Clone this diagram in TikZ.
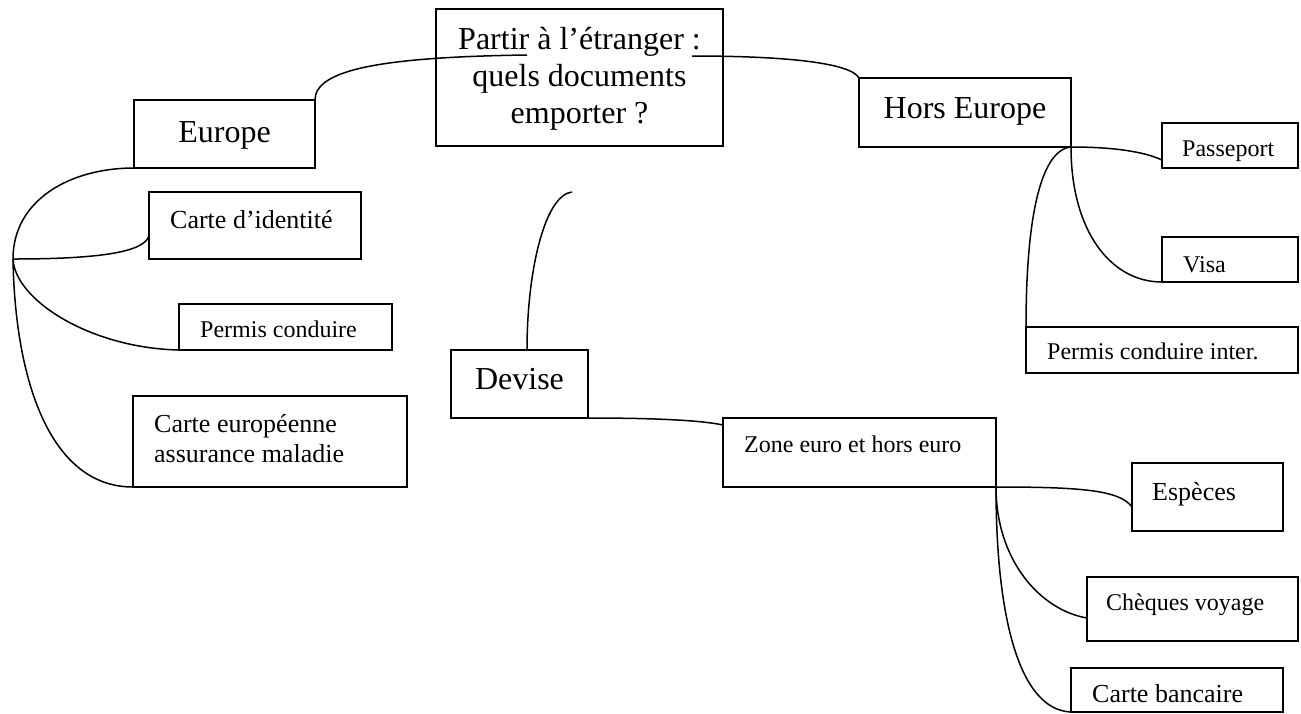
\documentclass[tikz,border=0pt]{standalone}
\usepackage{fontspec}
\setmainfont{Liberation Serif}
\begin{document}
\begin{tikzpicture}[x=1pt,y=-1pt,
  box/.style={draw=black,line width=1.7pt,inner sep=0pt,outer sep=0pt,rectangle},
  conn/.style={draw=black,line width=1.5pt},
  big/.style={inner sep=0pt,font=\fontsize{32}{37}\selectfont},
  small/.style={inner sep=0pt,anchor=base west,font=\fontsize{24}{29}\selectfont},
  smallb/.style={inner sep=0pt,anchor=base west,font=\fontsize{26}{30}\selectfont}]
\useasboundingbox (0,0) rectangle (1301,713);
% boxes
\node[box,minimum width=287pt,minimum height=137pt] (title) at (579.5,77.5) {};
\node[box,minimum width=181pt,minimum height=68pt] (eu) at (224.5,134) {};
\node[box,minimum width=212pt,minimum height=67pt] (cid) at (255,225.5) {};
\node[box,minimum width=213pt,minimum height=46pt] (pc) at (285.5,327) {};
\node[box,minimum width=274pt,minimum height=91pt] (ceam) at (270,441.5) {};
\node[box,minimum width=212pt,minimum height=69pt] (hors) at (965,112.5) {};
\node[box,minimum width=136pt,minimum height=45pt] (pass) at (1230,145.5) {};
\node[box,minimum width=136pt,minimum height=45pt] (visa) at (1230,259.5) {};
\node[box,minimum width=272pt,minimum height=46pt] (pci) at (1162,350) {};
\node[box,minimum width=137pt,minimum height=68pt] (dev) at (519.5,384) {};
\node[box,minimum width=273pt,minimum height=69pt] (zone) at (859.5,452.5) {};
\node[box,minimum width=151pt,minimum height=68pt] (esp) at (1207.5,497) {};
\node[box,minimum width=211pt,minimum height=64pt] (chq) at (1192.5,609) {};
\node[box,minimum width=212pt,minimum height=44pt] (cb) at (1177,690) {};
% texts
\node[big,align=center,anchor=north] (ttitle) at (579.5,27) {Partir à l’étranger~:\\quels documents\\emporter~?};
\node[big,anchor=base] (teu) at (224.5,142) {Europe};
\node[big,anchor=base] (thors) at (965,118) {Hors Europe};
\node[big,anchor=base] (tdev) at (519.5,389) {Devise};
\node[smallb] (tcid) at (170,228) {Carte d’identité};
\node[small] (tpc) at (200,337) {Permis conduire};
\node[smallb] (tceam1) at (154,432) {Carte européenne};
\node[smallb] (tceam2) at (154,462) {assurance maladie};
\node[small] (tpass) at (1182,156) {Passeport};
\node[small] (tvisa) at (1183,272) {Visa};
\node[small] (tpci) at (1047,359) {Permis conduire inter.};
\node[small] (tzone) at (744,452) {Zone euro et hors euro};
\node[smallb] (tesp) at (1152,500) {Espèces};
\node[small] (tchq) at (1106,610) {Chèques voyage};
\node[smallb] (tcb) at (1092,702) {Carte bancaire};
% free ends and hubs
\coordinate (tin1) at (527,55);
\coordinate (tin2) at (692,56);
\coordinate (euhub) at (13,259);
\coordinate (devtop) at (527,350);
\coordinate (devend) at (572,192);
% connectors
\draw[conn] (eu.north east) .. controls (315,70) and (380,57) .. (tin1);
\draw[conn] (tin2) .. controls (780,56) and (850,62) .. (hors.north west);
\draw[conn] (eu.south west) .. controls (70,168) and (13,200) .. (euhub);
\draw[conn] (euhub) .. controls (100,259) and (145,252) .. ([yshift=-10pt]cid.west);
\draw[conn] (euhub) .. controls (15,300) and (90,348) .. (pc.south west);
\draw[conn] (euhub) .. controls (15,380) and (50,487) .. (ceam.south west);
\draw[conn] (devtop) .. controls (527,270) and (545,195) .. (devend);
\draw[conn] (dev.south east) .. controls (650,418) and (700,420) .. ([yshift=-7pt]zone.north west);
\draw[conn] (zone.south east) .. controls (1080,487) and (1120,490) .. ([yshift=-10pt]esp.west);
\draw[conn] (zone.south east) .. controls (996,560) and (1040,610) .. ([yshift=-9pt]chq.west);
\draw[conn] (zone.south east) .. controls (996,620) and (1020,710) .. (cb.south west);
\draw[conn] (hors.south east) .. controls (1115,147) and (1145,152) .. ([yshift=-14.5pt]pass.west);
\draw[conn] (hors.south east) .. controls (1071,230) and (1110,282) .. (visa.south west);
\draw[conn] (hors.south east) .. controls (1040,150) and (1026,220) .. (pci.north west);
\end{tikzpicture}
\end{document}
